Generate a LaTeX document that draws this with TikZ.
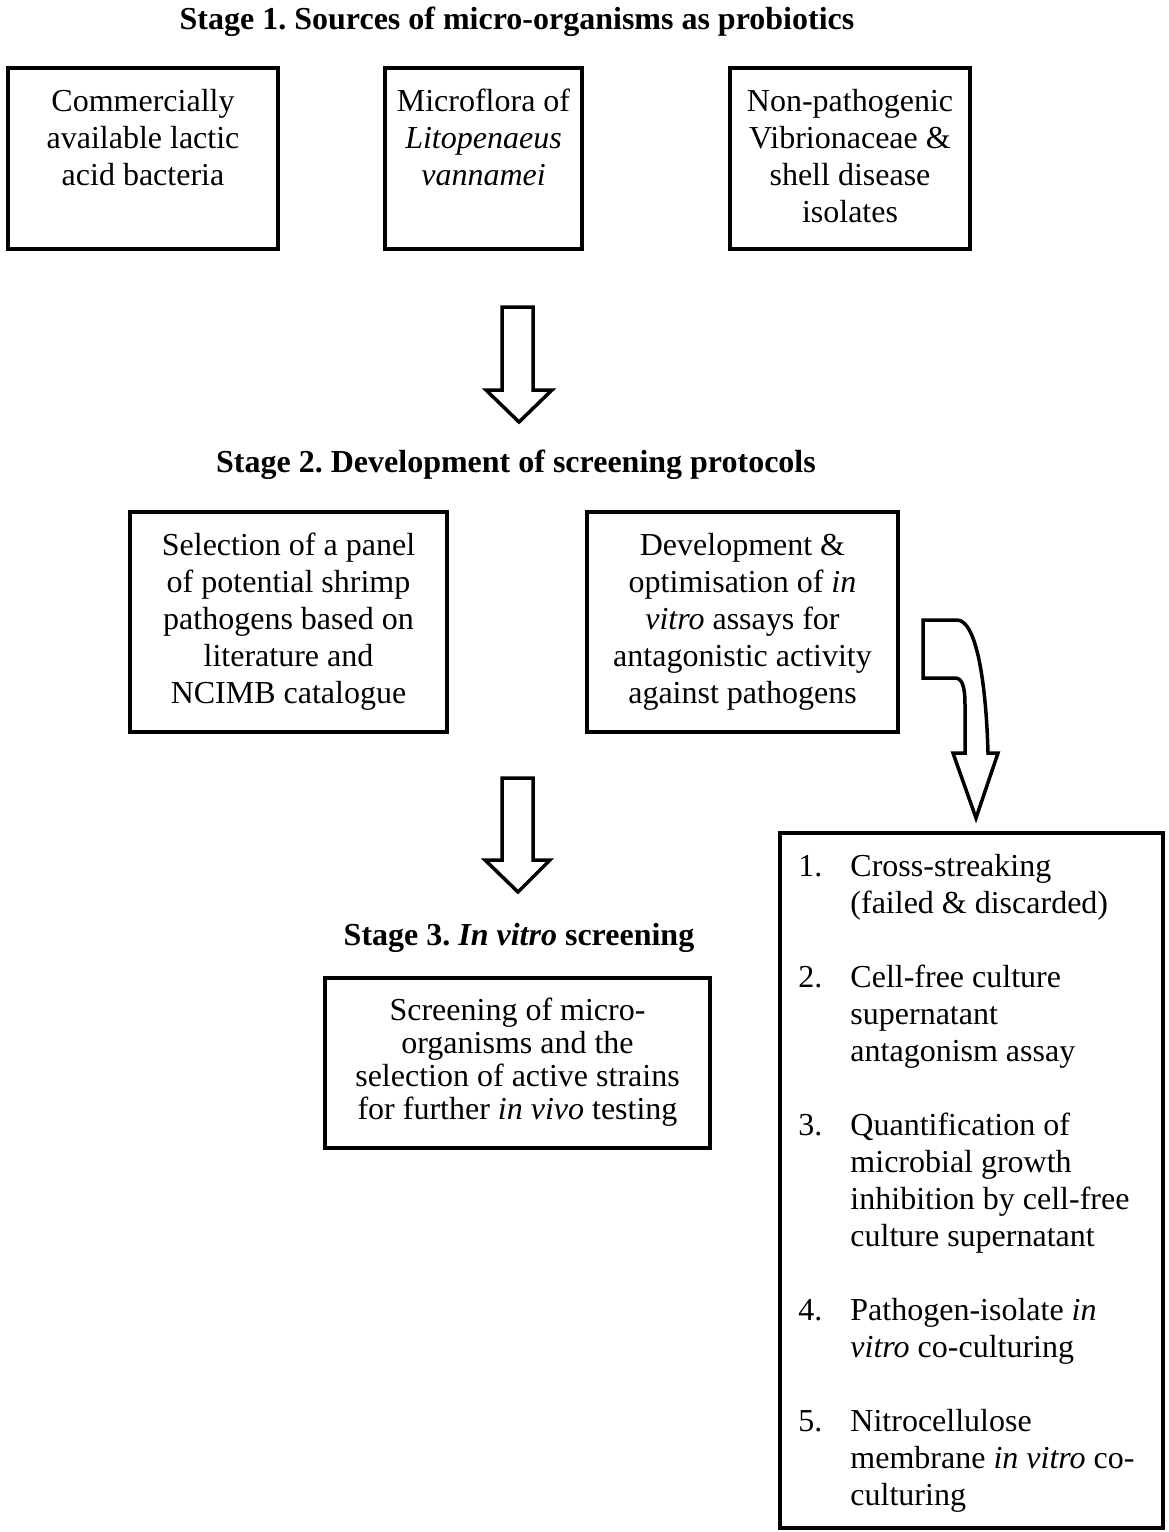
\documentclass[tikz,border=0pt]{standalone}
\usepackage{fontspec}
\setmainfont{Liberation Serif}
\frenchspacing
\begin{document}
\begin{tikzpicture}[x=1pt,y=-1pt,
  box/.style={draw, line width=3.5pt, inner sep=0pt},
  txt/.style={font=\fontsize{32}{37}\selectfont, align=center, inner sep=0pt, anchor=north},
  txtb/.style={font=\fontsize{32}{33}\selectfont, align=center, inner sep=0pt, anchor=north},
  lst/.style={font=\fontsize{32}{37}\selectfont, align=left, inner sep=0pt, anchor=north west},
  ttl/.style={font=\fontsize{32}{37}\selectfont\bfseries, inner sep=0pt},
  harrow/.style={draw, line width=3.5pt, line join=miter, fill=white}]
\useasboundingbox[fill=white] (0,0) rectangle (1168,1532);

% Stage 1
\node[ttl] (t1) at (517,22) {Stage 1. Sources of micro-organisms as probiotics};
\node[box, minimum width=270pt, minimum height=181pt] (b1) at (143,158.5) {};
\node[box, minimum width=197pt, minimum height=181pt] (b2) at (483.5,158.5) {};
\node[box, minimum width=240pt, minimum height=181pt] (b3) at (850,158.5) {};
\node[txt] (b1t) at ([yshift=-23pt]b1.north) {Commercially\\available lactic\\acid bacteria};
\node[txt] (b2t) at ([yshift=-23pt]b2.north) {Microflora of\\\textit{Litopenaeus}\\\textit{vannamei}};
\node[txt] (b3t) at ([yshift=-23pt]b3.north) {Non-pathogenic\\Vibrionaceae \&\\shell disease\\isolates};

% Arrow 1
\draw[harrow] (502,307) -- (533,307) -- (533,390) -- (552,390) -- (519,422) -- (486,390) -- (502,390) -- cycle;

% Stage 2
\node[ttl] (t2) at (516,465) {Stage 2. Development of screening protocols};
\node[box, minimum width=317pt, minimum height=220pt] (b4) at (288.5,622) {};
\node[box, minimum width=311pt, minimum height=220pt] (b5) at (742.5,622) {};
\node[txt] (b4t) at ([yshift=-23pt]b4.north) {Selection of a panel\\of potential shrimp\\pathogens based on\\literature and\\NCIMB catalogue};
\node[txt] (b5t) at ([yshift=-23pt]b5.north) {Development \&\\optimisation of \textit{in}\\\textit{vitro} assays for\\antagonistic activity\\against pathogens};

% Curved arrow
\draw[harrow] (923,620) -- (957,620) .. controls (976,620) and (986,680) .. (988,753)
  -- (998,753) -- (976,818) -- (953,753) -- (965,753) -- (965,705)
  .. controls (965,686) and (962,678) .. (955,678) -- (923,678) -- cycle;

% Arrow 2
\draw[harrow] (502,778) -- (533,778) -- (533,860) -- (550,860) -- (518,892) -- (485,860) -- (502,860) -- cycle;

% Stage 3
\node[ttl] (t3) at (519,938) {Stage 3. \textit{In vitro} screening};
\node[box, minimum width=385pt, minimum height=170pt] (b6) at (517.5,1063) {};
\node[txtb] (b6t) at ([yshift=-22pt]b6.north) {Screening of micro-\\organisms and the\\selection of active strains\\for further \textit{in vivo} testing};

% List box
\node[box, minimum width=383pt, minimum height=695pt] (b7) at (971.5,1180.5) {};
\newcommand{\numit}[1]{\makebox[52pt][l]{#1}}
\newcommand{\indit}{\hspace*{52pt}}
\node[lst] (b7t) at ([xshift=20pt,yshift=-23pt]b7.north west) {%
\numit{1.}Cross-streaking\\
\indit(failed \& discarded)\\[37pt]
\numit{2.}Cell-free culture\\
\indit supernatant\\
\indit antagonism assay\\[37pt]
\numit{3.}Quantification of\\
\indit microbial growth\\
\indit inhibition by cell-free\\
\indit culture supernatant\\[37pt]
\numit{4.}Pathogen-isolate \textit{in}\\
\indit\textit{vitro} co-culturing\\[37pt]
\numit{5.}Nitrocellulose\\
\indit membrane \textit{in vitro} co-\\
\indit culturing};
\end{tikzpicture}
\end{document}
